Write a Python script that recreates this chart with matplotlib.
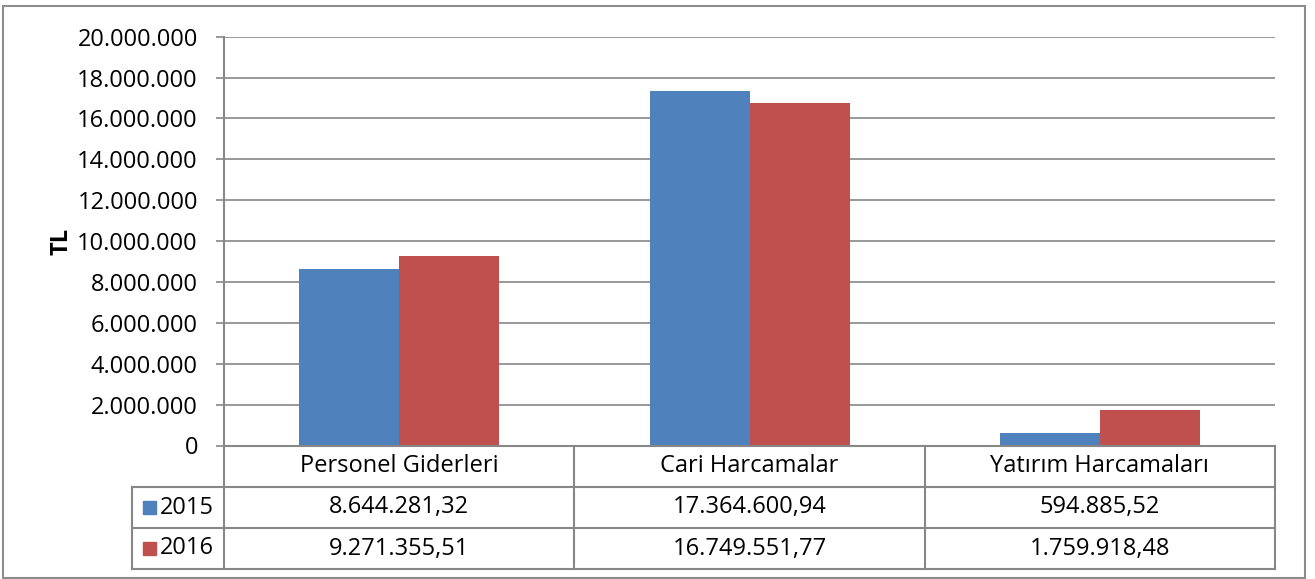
import matplotlib
matplotlib.use("Agg")
import matplotlib.pyplot as plt
from matplotlib.patches import Rectangle
from matplotlib.lines import Line2D
import numpy as np

categories = ["Personel Giderleri", "Cari Harcamalar", "Yatırım Harcamaları"]
series_names = ["2015", "2016"]
values_2015 = [8644281.32, 17364600.94, 594885.52]
values_2016 = [9271355.51, 16749551.77, 1759918.48]
y_ticks = [0, 2000000, 4000000, 6000000, 8000000, 10000000, 12000000,
           14000000, 16000000, 18000000, 20000000]
y_label = "TL"

colors = ["#4F81BD", "#C0504D"]
grid_c = "#878787"
FONT = ["Open Sans", "DejaVu Sans"]
plt.rcParams['font.family'] = FONT

W, H = 1315, 579
fig = plt.figure(figsize=(W / 100, H / 100), dpi=100)

def fx(px):
    return px / W

def fy(py):
    return 1 - py / H

# outer chart border
fig.patches.append(Rectangle((fx(3), fy(578)), fx(1305) - fx(3), fy(6) - fy(578),
                             transform=fig.transFigure, fill=False,
                             edgecolor="#8c8c8c", lw=1.5))

fs = 17
x0, x1, ytop, ybot = 224, 1275, 36.7, 445.5
ax = fig.add_axes([fx(x0), fy(ybot), fx(x1) - fx(x0), fy(ytop) - fy(ybot)])
n = len(categories)
x = np.arange(n)
bw = 100 / ((x1 - x0) / n)
ax.bar(x - bw / 2, values_2015, width=bw, color=colors[0], zorder=3)
ax.bar(x + bw / 2, values_2016, width=bw, color=colors[1], zorder=3)
ax.set_xlim(-0.5, n - 0.5)
ax.set_ylim(0, 20000000)
ax.set_yticks(y_ticks)

def tr(v, dec=0):
    s = f"{v:,.{dec}f}"
    return s.replace(",", "X").replace(".", ",").replace("X", ".")

ax.set_yticklabels([tr(v) for v in y_ticks], fontsize=fs, color="black")
ax.yaxis.grid(True, color=grid_c, lw=1.2, zorder=0)
ax.set_xticks([])
for s in ["top", "right", "bottom"]:
    ax.spines[s].set_visible(False)
ax.spines["left"].set_color(grid_c)
ax.spines["left"].set_linewidth(1.5)
ax.tick_params(axis="y", length=5.8, width=1.2, color=grid_c, pad=13)
fig.text(fx(62), fy(241), y_label, rotation=90, fontsize=fs, fontweight="bold",
         ha="center", va="center")

# data table
tx0 = 132
rows = [445.5, 487, 528, 569]
lw = 1.5
def hline(y, xa, xb):
    fig.lines.append(Line2D([fx(xa), fx(xb)], [fy(y), fy(y)], transform=fig.transFigure,
                            color=grid_c, lw=lw))
def vline(xp, ya, yb):
    fig.lines.append(Line2D([fx(xp), fx(xp)], [fy(ya), fy(yb)], transform=fig.transFigure,
                            color=grid_c, lw=lw))

hline(rows[0], x0, x1)
for r in rows[1:]:
    hline(r, tx0, x1)
cw = (x1 - x0) / n
for i in range(n + 1):
    vline(x0 + i * cw, rows[0], rows[3])
vline(tx0, rows[1], rows[3])

for i, c in enumerate(categories):
    fig.text(fx(x0 + (i + 0.5) * cw), fy((rows[0] + rows[1]) / 2), c,
             ha="center", va="center", fontsize=fs)
for r, (name, vals, col) in enumerate(zip(series_names, [values_2015, values_2016], colors)):
    yc = (rows[r + 1] + rows[r + 2]) / 2
    fig.patches.append(Rectangle((fx(143), fy(yc + 6.5)), fx(156) - fx(143), fy(yc - 6.5) - fy(yc + 6.5),
                                 transform=fig.transFigure, color=col))
    fig.text(fx(160), fy(yc), name, ha="left", va="center", fontsize=fs)
    for i, v in enumerate(vals):
        fig.text(fx(x0 + (i + 0.5) * cw), fy(yc), tr(v, 2),
                 ha="center", va="center", fontsize=fs)

fig.savefig("out.png", dpi=100)
